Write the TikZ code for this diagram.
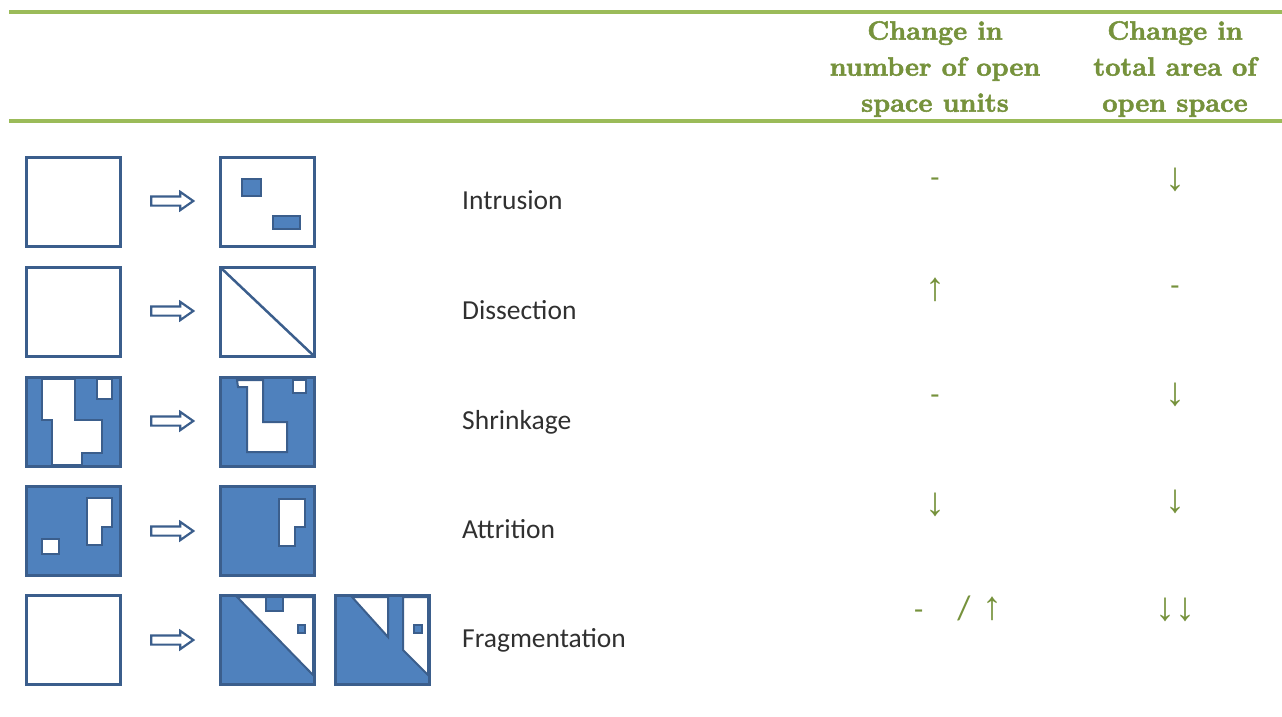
\documentclass[tikz,border=0pt]{standalone}
\usepackage{fontspec}
\newfontfamily\labelfont{Carlito}
\newfontfamily\symfont{Liberation Sans}
\newfontfamily\headfont{lmroman10-bold}[Extension=.otf,FakeBold=2]
\usepackage{tikz}
\usetikzlibrary{
  	positioning,
  	shapes.arrows
  }
\definecolor{rulegreen}{HTML}{9BBB59}
\definecolor{textgreen}{HTML}{76923C}
\definecolor{plotblue}{HTML}{4F81BD}
\definecolor{plotedge}{HTML}{3B5E8C}
\definecolor{labelgray}{HTML}{303030}
\tikzstyle{plot}=[draw=plotedge,line width=3pt,minimum width=94pt,minimum height=89pt,inner sep=0pt,outer sep=0pt]
\tikzstyle{full}=[plot,fill=plotblue]
\tikzstyle{hole}=[fill=white,draw=plotedge,line width=2pt,line join=miter]
\tikzstyle{lot}=[fill=plotblue,draw=plotedge,line width=2pt]
\tikzstyle{turn}=[single arrow,draw=plotedge,fill=white,line width=2.2pt,minimum height=42pt,minimum width=16pt,inner sep=3.5pt,single arrow head extend=4.5pt,single arrow tip angle=70]
\tikzstyle{rowlabel}=[anchor=base west,inner sep=0pt,text=labelgray,font=\labelfont\fontsize{27.5}{30}\selectfont]
\tikzstyle{head}=[anchor=north,inner sep=0pt,align=center,text=textgreen,font=\headfont\fontsize{26.5}{36}\selectfont]
\tikzstyle{change}=[anchor=base,inner sep=0pt,text=textgreen,font=\labelfont\fontsize{30}{30}\selectfont]
\tikzstyle{flow}=[anchor=base,inner sep=0pt,text=textgreen,font=\symfont\fontsize{40}{40}\selectfont]

\begin{document}
\begin{tikzpicture}[x=1pt,y=-1pt]
	\useasboundingbox (0,0) rectangle (1282,717);
	% header
	\draw[rulegreen,line width=3.5pt] (9,12) -- (1282,12);
	\draw[rulegreen,line width=3.5pt] (9,121) -- (1282,121);
	\node[head] (num) at (935,21) {Change in\\number of open\\space units};
	\node[head] (area) at (1175,21) {Change in\\total area of\\open space};
	% intrusion
	\node[plot] (in0) at (73,201.5) {};
	\node[plot] (in1) at (267,201.5) {};
	\node[turn] (ar1) at (169,201) {};
	\draw[lot] (242,179) rectangle (261,196);
	\draw[lot] (273,216) rectangle (300,229);
	\node[rowlabel] (intrusion) at (462,209) {Intrusion};
	% dissection
	\node[plot] (di0) at (73,311.5) {};
	\node[plot] (di1) at (267,311.5) {};
	\node[turn] (ar2) at (169,311) {};
	\draw[plotedge,line width=2.5pt] (di1.north west) -- (di1.south east);
	\node[rowlabel] (dissection) at (462,319) {Dissection};
	% shrinkage
	\node[full] (sh0) at (73,421.5) {};
	\node[full] (sh1) at (267,421.5) {};
	\node[turn] (ar3) at (169,421) {};
	\draw[hole] (42,379) -- (75,379) -- (75,420) -- (102,420) -- (102,453) -- (82,453)
		-- (82,465) -- (52,465) -- (52,420) -- (42,420) -- cycle;
	\draw[hole] (97,379) rectangle (112,399);
	\draw[hole] (237,380) -- (263,380) -- (263,422) -- (287,422) -- (287,452) -- (247,452)
		-- (247,387) -- (238,387) -- cycle;
	\draw[hole] (293,380) rectangle (306,393);
	\node[rowlabel] (shrinkage) at (462,429) {Shrinkage};
	% attrition
	\node[full] (at0) at (73,531) {};
	\node[full] (at1) at (267,531) {};
	\node[turn] (ar4) at (169,531) {};
	\draw[hole] (42,539) rectangle (59,554);
	\draw[hole] (87,498) -- (112,498) -- (112,527) -- (102,527) -- (102,545) -- (87,545) -- cycle;
	\draw[hole] (279,499) -- (305,499) -- (305,527) -- (295,527) -- (295,546) -- (279,546) -- cycle;
	\node[rowlabel] (attrition) at (462,538) {Attrition};
	% fragmentation
	\node[plot] (fr0) at (73,640) {};
	\node[full] (fr1) at (267,640) {};
	\node[full] (fr2) at (382.5,640) {};
	\node[turn] (ar5) at (169,640) {};
	\draw[hole] (237,597) -- (313,597) -- (313,675) -- cycle;
	\draw[lot] (266,597) rectangle (283,611);
	\draw[lot] (298,625) rectangle (305,633);
	\draw[hole] (352,597) -- (388,597) -- (388,637) -- cycle;
	\draw[hole] (403,597) -- (428,597) -- (428,675) -- (403,650) -- cycle;
	\draw[lot] (414,625) rectangle (421.5,633);
	\node[rowlabel] (fragmentation) at (462,647) {Fragmentation};
	% changes
	\node[change] (in-n) at (935,187) {-};
	\node[flow] (in-a) at (1175,190) {↓};
	\node[flow] (di-n) at (935,300) {↑};
	\node[change] (di-a) at (1175,295) {-};
	\node[change] (sh-n) at (935,404) {-};
	\node[flow] (sh-a) at (1175,405) {↓};
	\node[flow] (at-n) at (935,515) {↓};
	\node[flow] (at-a) at (1175,512) {↓};
	\node[change,anchor=base west] (fr-n) at (914,619) {-\hspace{34pt}{\fontsize{34}{34}\selectfont/}\hspace{12pt}{\symfont\fontsize{40}{40}\selectfont↑}};
	\node[flow] (fr-a) at (1175,620) {↓↓};
\end{tikzpicture}
\end{document}
